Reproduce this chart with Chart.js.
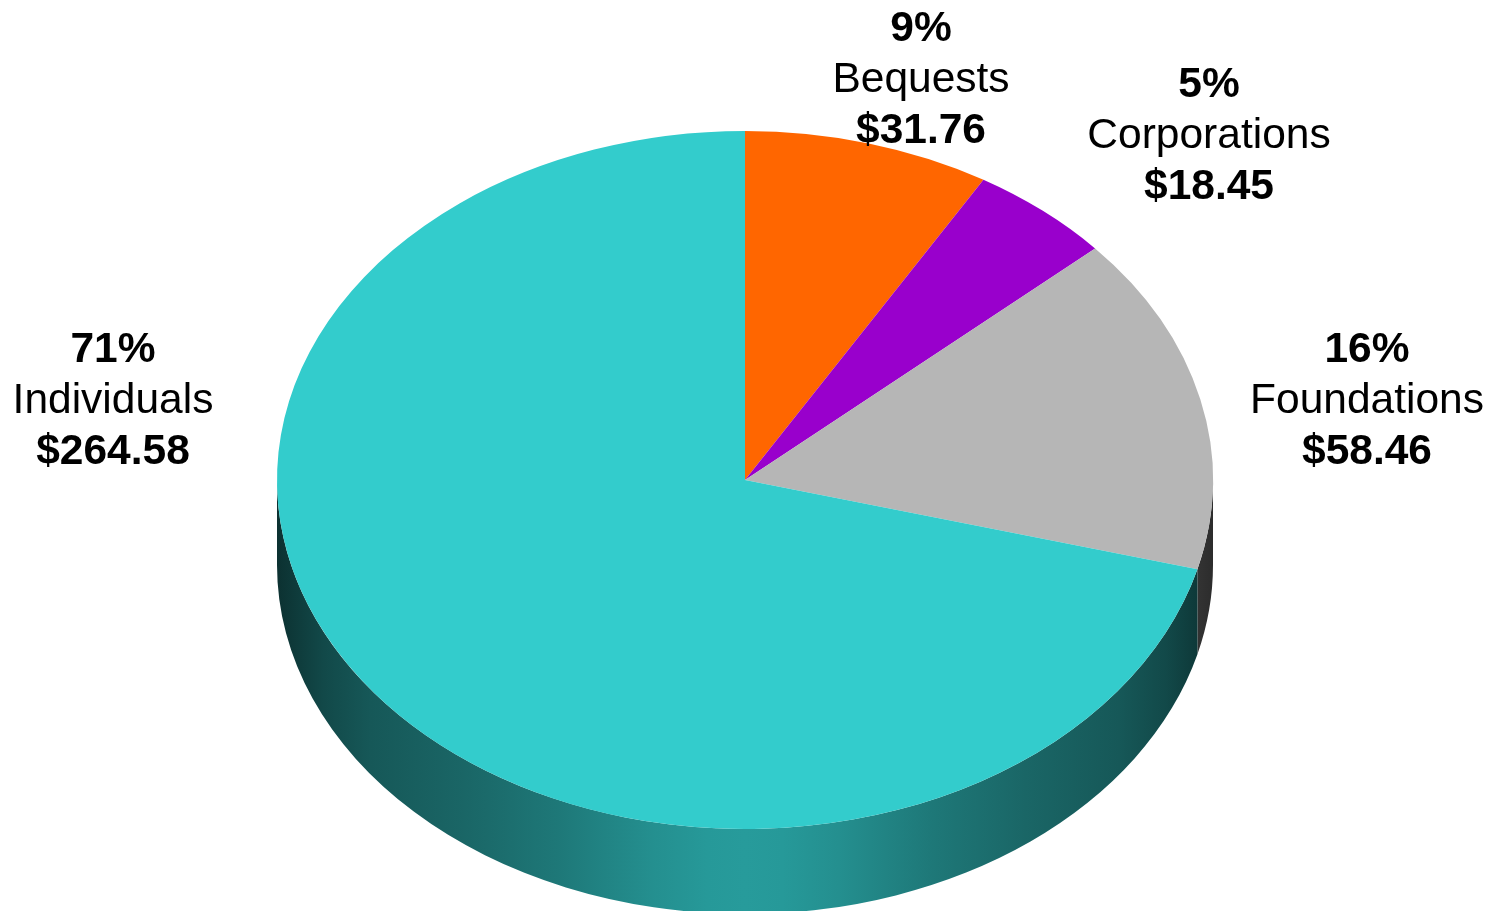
<!DOCTYPE html>
<html>
<head>
<meta charset="utf-8">
<title>Charitable giving by source</title>
<script src="https://cdn.jsdelivr.net/npm/chart.js@4"></script>
<style>
  html, body { margin: 0; padding: 0; background: #fff; overflow: hidden; }
  #wrap { position: relative; width: 1497px; height: 911px; }
  canvas { display: block; }
</style>
</head>
<body>
<div id="wrap"><canvas id="pie" width="1497" height="911"></canvas></div>
<script>
// Giving by source, in billions of dollars
const categories = ['Bequests', 'Corporations', 'Foundations', 'Individuals'];
const amounts = [31.76, 18.45, 58.46, 264.58];
const percentLabels = ['9%', '5%', '16%', '71%'];
const amountLabels = ['$31.76', '$18.45', '$58.46', '$264.58'];
const sliceColors = ['#FF6600', '#9900CC', '#B6B6B6', '#33CCCC'];

// Label block anchors: centre x and baseline of the first line
const labelAnchors = [[921, 41], [1209, 97], [1367, 362], [113, 362]];
const LINE_HEIGHT = 51;
const FONT_SIZE = 42.5;

// Ellipse stretch of the pie top and the height of its rim
const RADIUS_Y = 349;
const RADIUS_X = 468;
const RIM_DEPTH = 85;

// Brightness along the rim, from the left edge to the right edge
const rimShade = [
  [0.00, 0.24], [0.05, 0.36], [0.10, 0.43], [0.20, 0.50], [0.30, 0.59],
  [0.40, 0.70], [0.46, 0.75], [0.50, 0.76], [0.54, 0.75], [0.60, 0.70],
  [0.70, 0.59], [0.80, 0.50], [0.90, 0.43], [0.95, 0.36], [1.00, 0.24]
];

function shadeColor(hex, k) {
  const n = parseInt(hex.slice(1), 16);
  const c = [n >> 16, (n >> 8) & 255, n & 255].map(v => Math.round(v * k));
  return `rgb(${c[0]},${c[1]},${c[2]})`;
}

function stretchAboutCentre(chart, ctx) {
  const arc = chart.getDatasetMeta(0).data[0];
  ctx.translate(arc.x, arc.y);
  ctx.scale(RADIUS_X / RADIUS_Y, 1);
  ctx.translate(-arc.x, -arc.y);
}

// Squashes the disc into an ellipse and draws its rim beneath the slices
const tiltedDisc = {
  id: 'tiltedDisc',
  beforeDatasetsDraw(chart) {
    const ctx = chart.ctx;
    ctx.save();
    stretchAboutCentre(chart, ctx);
    chart.getDatasetMeta(0).data.forEach((arc, i) => {
      const from = Math.max(arc.startAngle, 0);
      const to = Math.min(arc.endAngle, Math.PI);
      if (to <= from) return;
      const r = arc.outerRadius;
      const grad = ctx.createLinearGradient(arc.x - r, 0, arc.x + r, 0);
      rimShade.forEach(([pos, k]) => grad.addColorStop(pos, shadeColor(sliceColors[i], k)));
      ctx.beginPath();
      ctx.arc(arc.x, arc.y, r, from, to);
      ctx.arc(arc.x, arc.y + RIM_DEPTH, r, to, from, true);
      ctx.closePath();
      ctx.fillStyle = grad;
      ctx.fill();
    });
  },
  afterDatasetsDraw(chart) {
    chart.ctx.restore();
  }
};

// Three-line label per slice: percentage, name, amount
const sliceLabels = {
  id: 'sliceLabels',
  afterDraw(chart) {
    const ctx = chart.ctx;
    ctx.save();
    ctx.fillStyle = '#000';
    ctx.textAlign = 'center';
    ctx.textBaseline = 'alphabetic';
    const bold = `bold ${FONT_SIZE}px "Liberation Sans", Arial, sans-serif`;
    const plain = `${FONT_SIZE}px "Liberation Sans", Arial, sans-serif`;
    categories.forEach((name, i) => {
      const [x, y] = labelAnchors[i];
      ctx.font = bold;
      ctx.fillText(percentLabels[i], x, y);
      ctx.font = plain;
      ctx.fillText(name, x, y + LINE_HEIGHT);
      ctx.font = bold;
      ctx.fillText(amountLabels[i], x, y + 2 * LINE_HEIGHT);
    });
    ctx.restore();
  }
};

new Chart(document.getElementById('pie'), {
  type: 'pie',
  data: {
    labels: categories,
    datasets: [{
      data: amounts,
      backgroundColor: sliceColors,
      borderWidth: 0,
      hoverOffset: 0
    }]
  },
  options: {
    responsive: false,
    animation: false,
    events: [],
    layout: { padding: { left: 396, right: 403, top: 131, bottom: 82 } },
    plugins: { legend: { display: false }, tooltip: { enabled: false } }
  },
  plugins: [tiltedDisc, sliceLabels]
});
</script>
</body>
</html>
